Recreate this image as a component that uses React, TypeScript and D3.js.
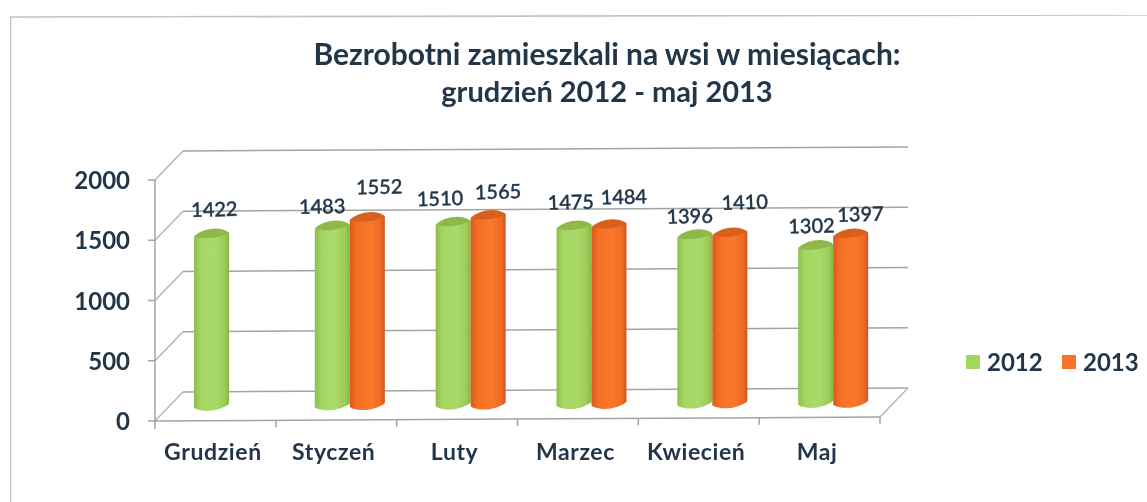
import React from "react";
import * as d3 from "d3";

const titleLines = ["Bezrobotni zamieszkali na wsi w miesiącach:", "grudzień 2012 - maj 2013"];
const categories = ["Grudzień", "Styczeń", "Luty", "Marzec", "Kwiecień", "Maj"];
const series2012: (number | null)[] = [1422, 1483, 1510, 1475, 1396, 1302];
const series2013: (number | null)[] = [null, 1552, 1565, 1484, 1410, 1397];
const yTicks = [0, 500, 1000, 1500, 2000];
const seriesNames = ["2012", "2013"];
// hand placement of the value labels relative to each bar top [dx, dy]
const labelNudge2012 = [[3, -25], [-10, -20], [-13, -24], [-3, -24], [-5, -19], [-4, -20]];
const labelNudge2013 = [[0, 0], [12, -31], [10, -24], [15, -28], [15, -31], [10, -20]];

const FONT = "Lato, 'Open Sans', sans-serif";
const INK = "#22364a";
const y = d3.scaleLinear().domain([0, 2000]).range([421, 180]);
const x = d3.scaleBand<string>().domain(categories).range([155, 880]);
const baseTilt = (px: number) => (px - 155) * (4 / 725);
const DEPTH_X = 28, DEPTH_Y = -29;
const BAR_W = 35;
const barBase = (cx: number) => 406 - (cx - 155) * 0.0048;
const pxPerUnit = (y(0) - y(1));

function Cylinder({ cx, v, id }: { cx: number; v: number; id: string }) {
  const base = barBase(cx);
  const top = base - v * pxPerUnit;
  const rx = BAR_W / 2, ry = 6.5, dy = -2;
  const body = `M${cx - rx},${top - dy} L${cx - rx},${base - dy}
    C${cx - rx / 2},${base + ry + 1} ${cx + rx / 2},${base + ry - 1} ${cx + rx},${base + dy}
    L${cx + rx},${top + dy}Z`;
  const capPath = `M${cx - rx},${top - dy}
    C${cx - rx / 2},${top + ry - 1} ${cx + rx / 2},${top + ry - 3} ${cx + rx},${top + dy}
    C${cx + rx / 2},${top - ry - 2} ${cx - rx / 2},${top - ry} ${cx - rx},${top - dy}Z`;
  return (
    <g>
      <path d={body} fill={`url(#grad${id})`} />
      <path d={capPath} fill={id === "G" ? "#8fb848" : "#d9601f"} />
    </g>
  );
}

export default function App() {
  const band = x.bandwidth();
  return (
    <svg width={1147} height={502} style={{ position: "absolute", left: 0, top: 0, background: "#fff" }} fontFamily={FONT}>
      <defs>
        <linearGradient id="gradG" x1="0" x2="1" y1="0" y2="0">
          <stop offset="0" stopColor="#8cbf4c" />
          <stop offset="0.2" stopColor="#a6d663" />
          <stop offset="0.6" stopColor="#a9d96a" />
          <stop offset="0.88" stopColor="#9ccb57" />
          <stop offset="1" stopColor="#86b344" />
        </linearGradient>
        <linearGradient id="gradO" x1="0" x2="1" y1="0" y2="0">
          <stop offset="0" stopColor="#d95a1c" />
          <stop offset="0.2" stopColor="#f56f24" />
          <stop offset="0.6" stopColor="#f9782b" />
          <stop offset="0.88" stopColor="#ee6a22" />
          <stop offset="1" stopColor="#c9581f" />
        </linearGradient>
        <filter id="scan" x="0" y="0" width="100%" height="100%">
          <feGaussianBlur stdDeviation="0.4" />
        </filter>
      </defs>

      <g filter="url(#scan)">
      {/* frame */}
      <path d="M10.5,502 L10.5,17 L1147,15" fill="none" stroke="#c4c4c4" strokeWidth={1.6} />

      {/* title */}
      <text fontSize={30} fontWeight={700} fill={INK} textAnchor="middle">
        {titleLines.map((t, i) => (
          <tspan key={t} x={607} y={65 + i * 37} fontSize={i === 0 ? 30 : 29}>{t}</tspan>
        ))}
      </text>

      {/* walls and floor */}
      <g fill="none" stroke="#a3a3a3" strokeWidth={1.5}>
        {yTicks.map((t) => (
          <g key={t}>
            <path d={`M155,${y(t)} L${155 + DEPTH_X},${y(t) + DEPTH_Y}`} stroke="#b5b5b5" />
            <path d={`M${155 + DEPTH_X},${y(t) + DEPTH_Y} L${880 + DEPTH_X},${y(t) + DEPTH_Y - baseTilt(880)}`} />
            <path d={`M148,${y(t)} L155,${y(t)}`} />
          </g>
        ))}
        <path d={`M155,${y(2000)} L155,${y(0) + 8}`} />
        <path d={`M155,${y(0)} L880,${y(0) - baseTilt(880)}`} />
        <path d={`M880,${y(0) - baseTilt(880)} L${880 + DEPTH_X},${y(0) - baseTilt(880) + DEPTH_Y}`} stroke="#b5b5b5" />
        {categories.map((c) => {
          const tx = (x(c) as number) + band;
          return <path key={c} d={`M${tx},${y(0) - baseTilt(tx)} V${y(0) - baseTilt(tx) + 7}`} />;
        })}
      </g>

      {/* y tick labels */}
      <g fontSize={24} fontWeight={700} fill={INK} textAnchor="end">
        {yTicks.map((t) => (
          <text key={t} x={130} y={y(t) + 9}>{t}</text>
        ))}
      </g>

      {/* bars */}
      {categories.map((c, i) => {
        const x0 = (x(c) as number) + 39;
        const a = series2012[i], b = series2013[i];
        return (
          <g key={c}>
            {a != null && <Cylinder cx={x0 + BAR_W / 2} v={a} id="G" />}
            {b != null && <Cylinder cx={x0 + BAR_W * 1.5} v={b} id="O" />}
          </g>
        );
      })}

      {/* value labels */}
      <g fontSize={20} fontWeight={500} fill={INK} textAnchor="middle">
        {categories.map((c, i) => {
          const x0 = (x(c) as number) + 39;
          const out: React.ReactNode[] = [];
          ([[series2012[i], 0.5, labelNudge2012[i]], [series2013[i], 1.5, labelNudge2013[i]]] as [number | null, number, number[]][]).forEach(([v, k, n]) => {
            if (v == null) return;
            const cx = x0 + BAR_W * k;
            const lx = cx + n[0], ly = barBase(cx) - v * pxPerUnit + n[1] + 7;
            out.push(<text key={k} x={lx} y={ly} transform={`rotate(-1.5 ${lx} ${ly})`} stroke={INK} strokeWidth={0.35}>{v}</text>);
          });
          return <g key={c}>{out}</g>;
        })}
      </g>

      {/* category labels */}
      <g fontSize={23} fontWeight={700} fill={INK} textAnchor="middle" letterSpacing={0.6}>
        {categories.map((c) => (
          <text key={c} x={(x(c) as number) + band / 2 - 2.5} y={460}>{c}</text>
        ))}
      </g>

      {/* legend */}
      <g fontSize={24} fontWeight={700} fill={INK}>
        {seriesNames.map((s, i) => (
          <g key={s} transform={`translate(${966 + i * 96},355)`}>
            <rect width={14} height={14} rx={1} fill={i === 0 ? "#a3d65f" : "#f9722a"} />
            <text x={21} y={15.5}>{s}</text>
          </g>
        ))}
      </g>
      </g>
    </svg>
  );
}
